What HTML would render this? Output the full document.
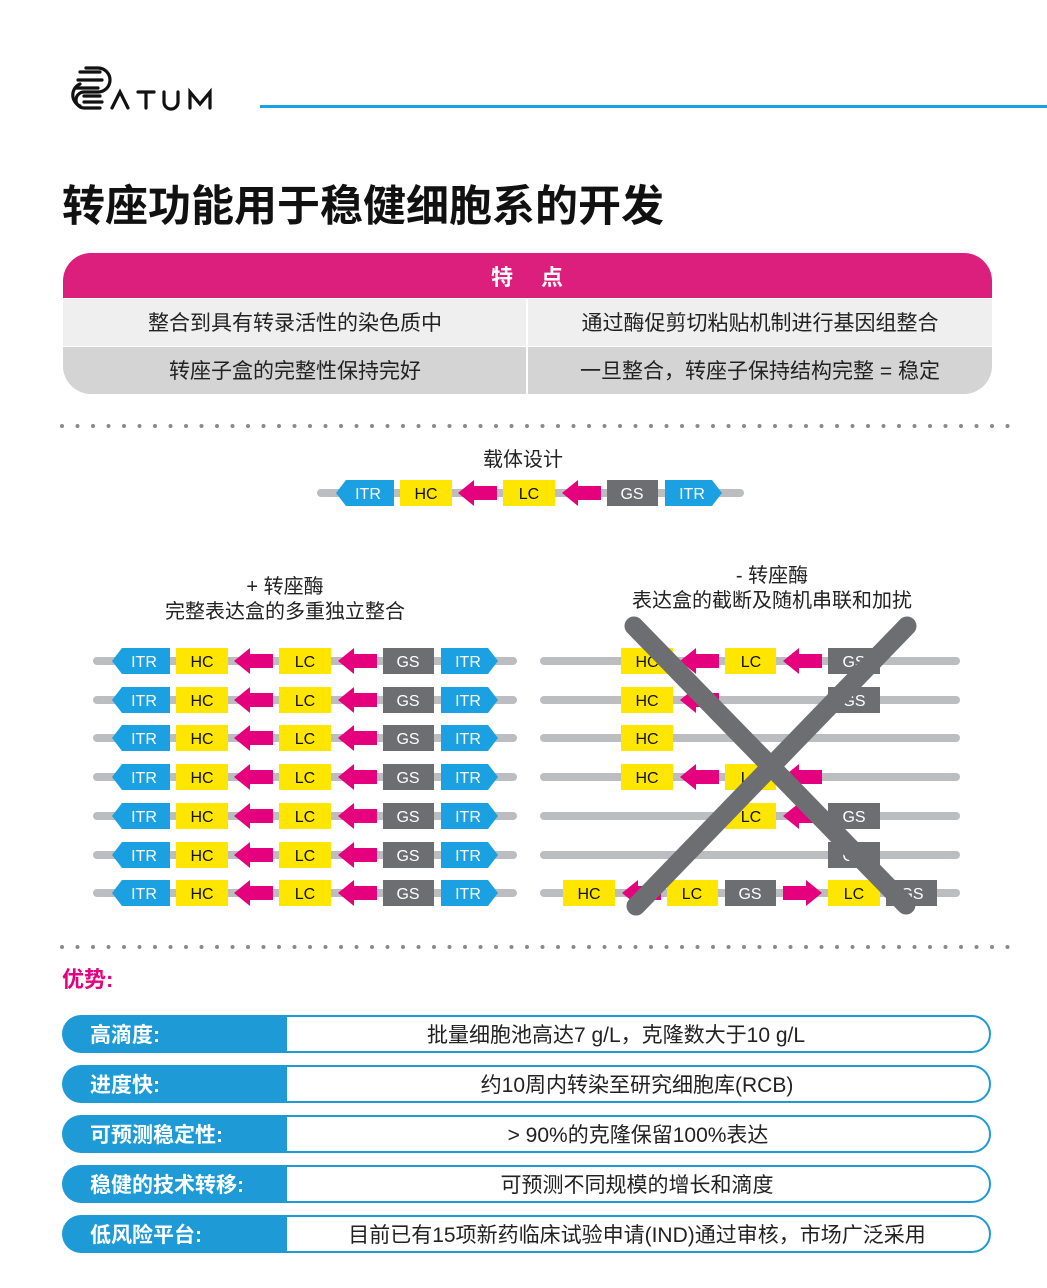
<!DOCTYPE html>
<html><head><meta charset="utf-8"><style>
html,body{margin:0;padding:0;background:#fff}
body{width:1047px;height:1288px;position:relative;overflow:hidden;font-family:"Liberation Sans","Noto Sans CJK SC",sans-serif}
svg{position:absolute;left:0;top:0}
.w{fill:#fff}.k{fill:#111}
.seg{font-family:"Liberation Sans",sans-serif;font-size:16px;text-anchor:middle}
.cn{font-family:"Liberation Sans","Noto Sans CJK SC",sans-serif}
</style></head><body>
<svg width="1047" height="1288" viewBox="0 0 1047 1288" xmlns="http://www.w3.org/2000/svg">
<defs>
<polygon id="al" points="0,0 16,-13 16,-7 39,-7 39,7 16,7 16,13" fill="#e5007e"/>
<polygon id="ar" points="39,0 23,-13 23,-7 0,-7 0,7 23,7 23,13" fill="#e5007e"/>
<g id="shapes">
<polygon points="112,0 122,-13 170,-13 170,13 122,13" fill="#1ba1e2"/>
<rect x="176" y="-13" width="52" height="26" fill="#ffe600"/>
<use href="#al" x="234"/>
<rect x="279" y="-13" width="52" height="26" fill="#ffe600"/>
<use href="#al" x="338"/>
<rect x="383" y="-13" width="51" height="26" fill="#6d6e71"/>
<polygon points="441,-13 488,-13 498,0 488,13 441,13" fill="#1ba1e2"/>
</g>
</defs>
<!-- logo -->
<g fill="none" stroke="#111" stroke-width="3.2" stroke-linecap="round">
<path d="M86 68 H98 A12 12 0 0 1 98 92 H84 A8 8 0 0 0 84 108 H100"/>
<path d="M80 72 H100 M78 80 H102 M76 88 H98"/>
<path d="M80 84 A12 12 0 0 0 80 106 M84 96 H100 M84 102 H102"/>
<path d="M112 108 L120 92 L128 108"/>
<path d="M138 92 H154 M146 92 V108"/>
<path d="M164 92 V102 A7 7 0 0 0 178 102 V92"/>
<path d="M190 108 V92 L200 104 L210 92 V108"/>
</g>
<rect x="260" y="105" width="787" height="3" fill="#1ba1e2"/>
<text x="62" y="221" class="cn" font-size="43" font-weight="bold" fill="#111">转座功能用于稳健细胞系的开发</text>
<!-- table -->
<path d="M91 253 H964 A28 28 0 0 1 992 281 V298 H63 V281 A28 28 0 0 1 91 253Z" fill="#dc1f7c"/>
<text x="527" y="285" class="cn" font-size="22" font-weight="bold" fill="#fff" text-anchor="middle">特　 点</text>
<rect x="63" y="299" width="929" height="47" fill="#efefef"/>
<path d="M63 347 H992 V366 A28 28 0 0 1 964 394 H91 A28 28 0 0 1 63 366Z" fill="#d4d4d4"/>
<rect x="526" y="299" width="2" height="95" fill="#fff"/>
<g class="cn" font-size="21" fill="#222" text-anchor="middle">
<text x="295" y="330">整合到具有转录活性的染色质中</text>
<text x="760" y="330">通过酶促剪切粘贴机制进行基因组整合</text>
<text x="295" y="378">转座子盒的完整性保持完好</text>
<text x="760" y="378">一旦整合，转座子保持结构完整 = 稳定</text>
</g>
<line x1="62" y1="426" x2="1016" y2="426" stroke="#8a8a8a" stroke-width="4" stroke-linecap="round" stroke-dasharray="0 15.5"/>
<line x1="62" y1="947" x2="1016" y2="947" stroke="#8a8a8a" stroke-width="4" stroke-linecap="round" stroke-dasharray="0 15.5"/>
<!-- vector design -->
<g class="cn" font-size="20" fill="#222" text-anchor="middle">
<text x="523" y="466">载体设计</text>
<text x="285" y="593">+ 转座酶</text>
<text x="285" y="618">完整表达盒的多重独立整合</text>
<text x="772" y="582">- 转座酶</text>
<text x="772" y="607">表达盒的截断及随机串联和加扰</text>
</g>
<g stroke="#bcbdc0" stroke-width="8" stroke-linecap="round">
<line x1="321" y1="493" x2="740" y2="493"/>
<line x1="97" y1="661" x2="513" y2="661"/><line x1="97" y1="700" x2="513" y2="700"/><line x1="97" y1="738" x2="513" y2="738"/><line x1="97" y1="777" x2="513" y2="777"/><line x1="97" y1="816" x2="513" y2="816"/><line x1="97" y1="855" x2="513" y2="855"/><line x1="97" y1="893" x2="513" y2="893"/>
<line x1="544" y1="661" x2="956" y2="661"/><line x1="544" y1="700" x2="956" y2="700"/><line x1="544" y1="738" x2="956" y2="738"/><line x1="544" y1="777" x2="956" y2="777"/><line x1="544" y1="816" x2="956" y2="816"/><line x1="544" y1="855" x2="956" y2="855"/><line x1="544" y1="893" x2="956" y2="893"/>
</g>
<g transform="translate(224,493)"><use href="#shapes"/>
<g class="seg"><text x="144" y="6" class="w">ITR</text><text x="202" y="6" class="k">HC</text><text x="305" y="6" class="k">LC</text><text x="408" y="6" class="w">GS</text><text x="468" y="6" class="w">ITR</text></g></g>
<g transform="translate(0,661)"><use href="#shapes"/><g class="seg"><text x="144" y="6" class="w">ITR</text><text x="202" y="6" class="k">HC</text><text x="305" y="6" class="k">LC</text><text x="408" y="6" class="w">GS</text><text x="468" y="6" class="w">ITR</text></g></g>
<g transform="translate(0,700)"><use href="#shapes"/><g class="seg"><text x="144" y="6" class="w">ITR</text><text x="202" y="6" class="k">HC</text><text x="305" y="6" class="k">LC</text><text x="408" y="6" class="w">GS</text><text x="468" y="6" class="w">ITR</text></g></g>
<g transform="translate(0,738)"><use href="#shapes"/><g class="seg"><text x="144" y="6" class="w">ITR</text><text x="202" y="6" class="k">HC</text><text x="305" y="6" class="k">LC</text><text x="408" y="6" class="w">GS</text><text x="468" y="6" class="w">ITR</text></g></g>
<g transform="translate(0,777)"><use href="#shapes"/><g class="seg"><text x="144" y="6" class="w">ITR</text><text x="202" y="6" class="k">HC</text><text x="305" y="6" class="k">LC</text><text x="408" y="6" class="w">GS</text><text x="468" y="6" class="w">ITR</text></g></g>
<g transform="translate(0,816)"><use href="#shapes"/><g class="seg"><text x="144" y="6" class="w">ITR</text><text x="202" y="6" class="k">HC</text><text x="305" y="6" class="k">LC</text><text x="408" y="6" class="w">GS</text><text x="468" y="6" class="w">ITR</text></g></g>
<g transform="translate(0,855)"><use href="#shapes"/><g class="seg"><text x="144" y="6" class="w">ITR</text><text x="202" y="6" class="k">HC</text><text x="305" y="6" class="k">LC</text><text x="408" y="6" class="w">GS</text><text x="468" y="6" class="w">ITR</text></g></g>
<g transform="translate(0,893)"><use href="#shapes"/><g class="seg"><text x="144" y="6" class="w">ITR</text><text x="202" y="6" class="k">HC</text><text x="305" y="6" class="k">LC</text><text x="408" y="6" class="w">GS</text><text x="468" y="6" class="w">ITR</text></g></g>
<!-- right side -->
<g class="seg">
<g transform="translate(0,661)"><rect x="621" y="-13" width="52" height="26" fill="#ffe600"/><use href="#al" x="680"/><rect x="725" y="-13" width="51" height="26" fill="#ffe600"/><use href="#al" x="783"/><rect x="828" y="-13" width="52" height="26" fill="#6d6e71"/><text x="647" y="6" class="k">HC</text><text x="751" y="6" class="k">LC</text><text x="854" y="6" class="w">GS</text></g>
<g transform="translate(0,700)"><rect x="621" y="-13" width="52" height="26" fill="#ffe600"/><use href="#al" x="680"/><rect x="828" y="-13" width="52" height="26" fill="#6d6e71"/><text x="647" y="6" class="k">HC</text><text x="854" y="6" class="w">GS</text></g>
<g transform="translate(0,738)"><rect x="621" y="-13" width="52" height="26" fill="#ffe600"/><text x="647" y="6" class="k">HC</text></g>
<g transform="translate(0,777)"><rect x="621" y="-13" width="52" height="26" fill="#ffe600"/><use href="#al" x="680"/><rect x="725" y="-13" width="51" height="26" fill="#ffe600"/><use href="#al" x="783"/><text x="647" y="6" class="k">HC</text><text x="751" y="6" class="k">LC</text></g>
<g transform="translate(0,816)"><rect x="725" y="-13" width="51" height="26" fill="#ffe600"/><use href="#al" x="783"/><rect x="828" y="-13" width="52" height="26" fill="#6d6e71"/><text x="751" y="6" class="k">LC</text><text x="854" y="6" class="w">GS</text></g>
<g transform="translate(0,855)"><rect x="828" y="-13" width="52" height="26" fill="#6d6e71"/><text x="854" y="6" class="w">GS</text></g>
<g transform="translate(0,893)"><rect x="563" y="-13" width="52" height="26" fill="#ffe600"/><use href="#al" x="622"/><rect x="667" y="-13" width="51" height="26" fill="#ffe600"/><rect x="725" y="-13" width="51" height="26" fill="#6d6e71"/><use href="#ar" x="783"/><rect x="828" y="-13" width="52" height="26" fill="#ffe600"/><rect x="886" y="-13" width="51" height="26" fill="#6d6e71"/><text x="589" y="6" class="k">HC</text><text x="692" y="6" class="k">LC</text><text x="750" y="6" class="w">GS</text><text x="854" y="6" class="k">LC</text><text x="912" y="6" class="w">GS</text></g>
</g>
<g stroke="#6d6e71" stroke-width="19" stroke-linecap="round">
<line x1="634" y1="626" x2="906" y2="905"/>
<line x1="907" y1="626" x2="636" y2="906"/>
</g>
<!-- advantages -->
<text x="62" y="987" class="cn" font-size="22" font-weight="bold" fill="#e5007e">优势:</text>
<g class="cn" font-size="21">
<g transform="translate(0,1015)"><path d="M81 0 H285 V38 H81 A19 19 0 0 1 81 0Z" fill="#1e9ad6"/><path d="M286 1 H972 A18 18 0 0 1 972 37 H286Z" fill="#fff" stroke="#1e9ad6" stroke-width="2"/><text x="90" y="27" fill="#fff" font-weight="bold">高滴度:</text><text x="616" y="27" fill="#222" text-anchor="middle">批量细胞池高达7 g/L，克隆数大于10 g/L</text></g>
<g transform="translate(0,1065)"><path d="M81 0 H285 V38 H81 A19 19 0 0 1 81 0Z" fill="#1e9ad6"/><path d="M286 1 H972 A18 18 0 0 1 972 37 H286Z" fill="#fff" stroke="#1e9ad6" stroke-width="2"/><text x="90" y="27" fill="#fff" font-weight="bold">进度快:</text><text x="637" y="27" fill="#222" text-anchor="middle">约10周内转染至研究细胞库(RCB)</text></g>
<g transform="translate(0,1115)"><path d="M81 0 H285 V38 H81 A19 19 0 0 1 81 0Z" fill="#1e9ad6"/><path d="M286 1 H972 A18 18 0 0 1 972 37 H286Z" fill="#fff" stroke="#1e9ad6" stroke-width="2"/><text x="90" y="27" fill="#fff" font-weight="bold">可预测稳定性:</text><text x="638" y="27" fill="#222" text-anchor="middle">&gt; 90%的克隆保留100%表达</text></g>
<g transform="translate(0,1165)"><path d="M81 0 H285 V38 H81 A19 19 0 0 1 81 0Z" fill="#1e9ad6"/><path d="M286 1 H972 A18 18 0 0 1 972 37 H286Z" fill="#fff" stroke="#1e9ad6" stroke-width="2"/><text x="90" y="27" fill="#fff" font-weight="bold">稳健的技术转移:</text><text x="637" y="27" fill="#222" text-anchor="middle">可预测不同规模的增长和滴度</text></g>
<g transform="translate(0,1215)"><path d="M81 0 H285 V38 H81 A19 19 0 0 1 81 0Z" fill="#1e9ad6"/><path d="M286 1 H972 A18 18 0 0 1 972 37 H286Z" fill="#fff" stroke="#1e9ad6" stroke-width="2"/><text x="90" y="27" fill="#fff" font-weight="bold">低风险平台:</text><text x="637" y="27" fill="#222" text-anchor="middle">目前已有15项新药临床试验申请(IND)通过审核，市场广泛采用</text></g>
</g>
</svg>
</body></html>
